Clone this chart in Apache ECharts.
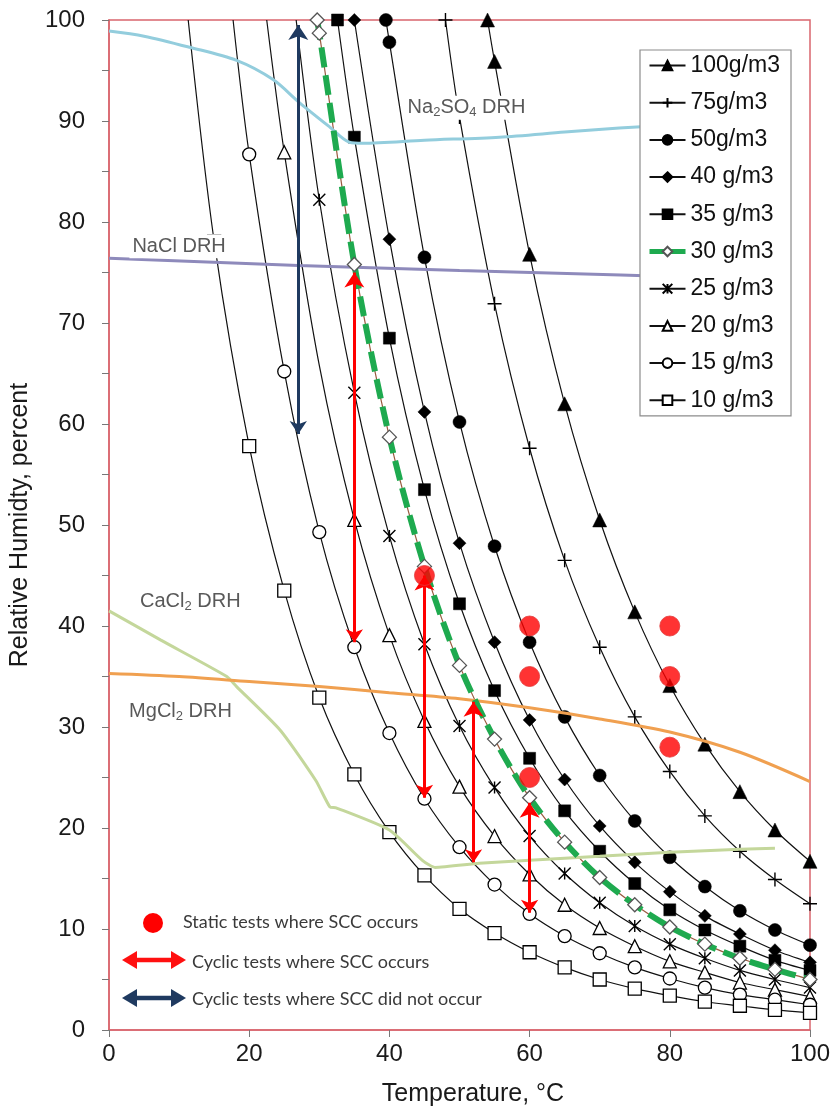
<!DOCTYPE html>
<html>
<head>
<meta charset="utf-8">
<script src="https://cdn.jsdelivr.net/npm/echarts@6/dist/echarts.min.js"></script>
<style>
  html, body { margin: 0; padding: 0; background: #fff; }
  #chart { width: 836px; height: 1115px; }
</style>
</head>
<body>
<div id="chart"></div>
<script>
// Relative humidity (%) against temperature (°C) at constant absolute humidity.
const ah100 = [[54, 100], [55, 95.9], [60, 76.8], [65, 62.0], [70, 50.5], [75, 41.4], [80, 34.1], [85, 28.3], [90, 23.6], [95, 19.8], [100, 16.7]];
const ah75 = [[48, 100], [50, 90.4], [55, 71.9], [60, 57.6], [65, 46.5], [70, 37.9], [75, 31.0], [80, 25.6], [85, 21.2], [90, 17.7], [95, 14.9], [100, 12.5]];
const ah50 = [[39.5, 100], [40, 97.8], [45, 76.5], [50, 60.2], [55, 47.9], [60, 38.4], [65, 31.0], [70, 25.2], [75, 20.7], [80, 17.1], [85, 14.2], [90, 11.8], [95, 9.9], [100, 8.4]];
const ah40 = [[35, 100], [40, 78.3], [45, 61.2], [50, 48.2], [55, 38.4], [60, 30.7], [65, 24.8], [70, 20.2], [75, 16.6], [80, 13.7], [85, 11.3], [90, 9.5], [95, 7.9], [100, 6.7]];
const ah35 = [[32.6, 100], [35, 88.4], [40, 68.5], [45, 53.5], [50, 42.2], [55, 33.6], [60, 26.9], [65, 21.7], [70, 17.7], [75, 14.5], [80, 11.9], [85, 9.9], [90, 8.3], [95, 6.9], [100, 5.9]];
const ah30 = [[29.7, 100], [30, 98.7], [35, 75.8], [40, 58.7], [45, 45.9], [50, 36.1], [55, 28.8], [60, 23.0], [65, 18.6], [70, 15.1], [75, 12.4], [80, 10.2], [85, 8.5], [90, 7.1], [95, 6.0], [100, 5.0]];
const ah25 = [[26.7, 100], [30, 82.2], [35, 63.1], [40, 48.9], [45, 38.2], [50, 30.1], [55, 24.0], [60, 19.2], [65, 15.5], [70, 12.6], [75, 10.3], [80, 8.5], [85, 7.1], [90, 5.9], [95, 5.0], [100, 4.2]];
const ah20 = [[22.5, 100], [25, 86.9], [30, 65.8], [35, 50.5], [40, 39.1], [45, 30.6], [50, 24.1], [55, 19.2], [60, 15.4], [65, 12.4], [70, 10.1], [75, 8.3], [80, 6.8], [85, 5.7], [90, 4.7], [95, 4.0], [100, 3.3]];
const ah15 = [[17.7, 100], [20, 86.7], [25, 65.2], [30, 49.3], [35, 37.9], [40, 29.4], [45, 22.9], [50, 18.1], [55, 14.4], [60, 11.5], [65, 9.3], [70, 7.6], [75, 6.2], [80, 5.1], [85, 4.2], [90, 3.5], [95, 3.0], [100, 2.5]];
const ah10 = [[11.3, 100], [15, 78.1], [20, 57.8], [25, 43.5], [30, 32.9], [35, 25.3], [40, 19.6], [45, 15.3], [50, 12.0], [55, 9.6], [60, 7.7], [65, 6.2], [70, 5.0], [75, 4.1], [80, 3.4], [85, 2.8], [90, 2.4], [95, 2.0], [100, 1.7]];

// Points drawn without a marker (index into each curve)
const unmarked = { '25 g/m3': [0], '20 g/m3': [0, 2], '15 g/m3': [0], '10 g/m3': [0] };

// Deliquescence relative humidity of salts
const na2so4DRH = [[0, 98.9], [5, 98.4], [11.5, 97.3], [18.2, 96.0], [23.4, 94.1], [27.2, 91.8], [31.5, 89.4], [34.3, 87.9], [36.2, 87.8], [45, 88.1], [55.7, 88.4], [65, 88.9], [72.8, 89.3], [80, 89.6]];
const naclDRH = [[0, 76.4], [27, 75.7], [50, 75.2], [73, 74.75], [80, 74.6]];
const cacl2DRH = [[0, 41.5], [7.4, 38.6], [16.8, 35.0], [18.2, 34.0], [24.4, 29.7], [29.5, 24.7], [31.5, 22.1], [32.4, 22.0], [40, 19.8], [44.7, 16.8], [46.5, 16.1], [52.8, 16.5], [60, 16.8], [70, 17.2], [80, 17.6], [90, 17.9], [95, 18.0]];
const mgcl2DRH = [[0, 35.3], [10, 35.0], [20, 34.5], [30, 34.0], [40, 33.4], [50, 32.8], [60, 31.9], [70, 30.8], [80, 29.5], [90, 27.5], [100, 24.6]];

// Test results
const staticSCC = [[45, 45], [60, 40], [60, 35], [60, 25], [80, 40], [80, 35], [80, 28]];
const cyclicSCC = [[35, 38.4, 75], [45, 23, 45], [52, 16.6, 32.5], [60, 11.6, 22.5]];   // [T, low RH, high RH]
const cyclicNoSCC = [[27, 59, 99.5]];

// Salt label anchors [T, RH]
const saltLabels = [
  { text: '{n|Na}{s|2}{n|SO}{s|4}{n| DRH}', at: [51, 91.3] },
  { text: '{n|NaCl DRH}', at: [10, 77.6] },
  { text: '{n|CaCl}{s|2}{n| DRH}', at: [11.6, 42.4] },
  { text: '{n|MgCl}{s|2}{n| DRH}', at: [10.2, 31.5] }
];

const legendNames = ['100g/m3', '75g/m3', '50g/m3', '40 g/m3', '35 g/m3', '30 g/m3', '25 g/m3', '20 g/m3', '15 g/m3', '10 g/m3'];

const FONT = 'Liberation Sans, Arial, sans-serif';
const GREEN = '#1eaa4f';
const plusPath = 'path://M5 0L5 10M0 5L10 5';
const starPath = 'path://M0 0L10 10M10 0L0 10M5 0L5 10';

const filled = { color: '#000', borderColor: '#000', borderWidth: 0.5 };
const hollow = { color: '#fff', borderColor: '#000', borderWidth: 1.3 };
const stroked = { color: '#000', borderColor: '#000', borderWidth: 1.4 };

const curveDefs = [
  { name: '100g/m3', data: ah100, symbol: 'triangle', size: 14, style: filled },
  { name: '75g/m3', data: ah75, symbol: plusPath, size: 14, style: stroked },
  { name: '50g/m3', data: ah50, symbol: 'circle', size: 13, style: filled },
  { name: '40 g/m3', data: ah40, symbol: 'diamond', size: 13, style: filled },
  { name: '35 g/m3', data: ah35, symbol: 'rect', size: 12, style: filled },
  { name: '30 g/m3', data: ah30, symbol: 'diamond', size: 14, style: { color: '#fff', borderColor: '#555', borderWidth: 1.3 } },
  { name: '25 g/m3', data: ah25, symbol: starPath, size: 12, style: stroked },
  { name: '20 g/m3', data: ah20, symbol: 'triangle', size: 13, style: hollow },
  { name: '15 g/m3', data: ah15, symbol: 'circle', size: 13, style: hollow },
  { name: '10 g/m3', data: ah10, symbol: 'rect', size: 13, style: hollow }
];

function toItems(name, pts) {
  const skip = unmarked[name] || [];
  return pts.map((p, i) => skip.indexOf(i) >= 0 ? { value: p, symbol: 'none' } : { value: p });
}

const series = [];

curveDefs.forEach(def => {
  const green = def.name === '30 g/m3';
  if (green) {
    // thin core line under the dashed highlight
    series.push({
      type: 'line', data: ah30, smooth: 0.3, symbol: 'none', silent: true, z: 3,
      lineStyle: { color: '#9a5b3f', width: 1.2 }
    });
  }
  series.push({
    name: def.name,
    type: 'line',
    data: toItems(def.name, def.data),
    smooth: 0.3,
    symbol: def.symbol,
    symbolSize: def.size,
    showAllSymbol: true,
    itemStyle: def.style,
    lineStyle: green ? { color: GREEN, width: 6, type: [20, 8] } : { color: '#111', width: 1.2 },
    z: green ? 4 : 2,
    silent: true
  });
});

function drhLine(data, color, smooth) {
  return { type: 'line', data: data, smooth: smooth, symbol: 'none', silent: true, z: 3,
           lineStyle: { color: color, width: 3 } };
}
series.push(drhLine(na2so4DRH, '#93cddd', 0.3));
series.push(drhLine(naclDRH, '#8e8abb', false));
series.push(drhLine(cacl2DRH, '#c4d79b', 0.2));
series.push(drhLine(mgcl2DRH, '#f0a050', 0.3));

// Cyclic tests: double-headed vertical arrows
series.push({
  type: 'lines', coordinateSystem: 'cartesian2d', silent: true, z: 5,
  symbol: ['arrow', 'arrow'], symbolSize: [13, 15],
  lineStyle: { color: '#ff0000', width: 3, opacity: 1 },
  data: cyclicSCC.map(a => ({ coords: [[a[0], a[1]], [a[0], a[2]]] }))
});
series.push({
  type: 'lines', coordinateSystem: 'cartesian2d', silent: true, z: 5,
  symbol: ['arrow', 'arrow'], symbolSize: [13, 15],
  lineStyle: { color: '#1f3a60', width: 3, opacity: 1 },
  data: cyclicNoSCC.map(a => ({ coords: [[a[0], a[1]], [a[0], a[2]]] }))
});

// Static tests
series.push({
  type: 'scatter', data: staticSCC, symbol: 'circle', symbolSize: 20, silent: true, z: 6,
  itemStyle: { color: '#ff0000', borderColor: '#e23a3a', borderWidth: 1 }
});

const chart = echarts.init(document.getElementById('chart'), null, { renderer: 'canvas' });

const AXIS_RED = '#d9656d';

chart.setOption({
  animation: false,
  backgroundColor: '#fff',
  grid: { left: 109, right: 26, top: 20, bottom: 85, show: true, borderColor: AXIS_RED, borderWidth: 1.5, backgroundColor: 'transparent' },
  xAxis: {
    type: 'value', min: 0, max: 100, interval: 20,
    name: 'Temperature, °C', nameLocation: 'middle', nameGap: 52,
    nameTextStyle: { fontSize: 25, color: '#1a1a1a', fontFamily: FONT, padding: [0, 0, 0, 27] },
    axisLine: { lineStyle: { color: AXIS_RED, width: 1.5 } },
    axisTick: { show: true, length: 7, lineStyle: { color: '#777' } },
    axisLabel: { fontSize: 24, color: '#1a1a1a', fontFamily: FONT, margin: 12 },
    splitLine: { show: false }
  },
  yAxis: {
    type: 'value', min: 0, max: 100, interval: 5,
    name: 'Relative Humidty, percent', nameLocation: 'middle', nameGap: 76,
    nameTextStyle: { fontSize: 25, color: '#1a1a1a', fontFamily: FONT },
    axisLine: { show: true, lineStyle: { color: AXIS_RED, width: 1.5 } },
    axisTick: { show: true, length: 7, lineStyle: { color: '#777' } },
    axisLabel: { fontSize: 24, color: '#1a1a1a', fontFamily: FONT, margin: 24,
                 formatter: v => (v % 10 === 0 ? String(v) : '') },
    splitLine: { show: false }
  },
  legend: {
    data: legendNames.map(n => n === '30 g/m3'
      ? { name: n, lineStyle: { color: GREEN, width: 5, type: 'solid' } }
      : { name: n }),
    orient: 'vertical', left: 640, top: 50,
    backgroundColor: '#fff', borderColor: '#8c8c8c', borderWidth: 1.2,
    padding: [4, 11, 4, 7], itemGap: 14.2, itemWidth: 36, itemHeight: 12,
    selectedMode: false,
    textStyle: { fontSize: 23, color: '#111', fontFamily: FONT, lineHeight: 22 }
  },
  series: series
});

// Salt labels (white boxes over the curves) and the key for the test symbols
const labelRich = {
  n: { fontSize: 20, fill: '#595959', fontFamily: FONT, lineHeight: 22, verticalAlign: 'middle' },
  s: { fontSize: 13, fill: '#595959', fontFamily: FONT, lineHeight: 22, verticalAlign: 'middle', padding: [9, 0, 0, 0] }
};
const graphics = saltLabels.map(l => {
  const p = chart.convertToPixel({ gridIndex: 0 }, l.at);
  return {
    type: 'text', x: p[0], y: p[1], z: 20,
    style: { text: l.text, rich: labelRich, align: 'center', verticalAlign: 'middle',
             backgroundColor: '#fff', padding: [1, 3] }
  };
});

const KEY_FONT = '18px Lato, sans-serif';
graphics.push(
  { type: 'circle', shape: { cx: 153, cy: 923, r: 10 }, style: { fill: '#ff0000' }, z: 20 },
  { type: 'text', x: 183, y: 922, style: { text: 'Static tests where SCC occurs', fill: '#3a3a3a', font: KEY_FONT, verticalAlign: 'middle' }, z: 20 },
  { type: 'line', shape: { x1: 132, y1: 960, x2: 176, y2: 960 }, style: { stroke: '#ff1010', lineWidth: 4.5 }, z: 20 },
  { type: 'polygon', shape: { points: [[122, 960], [137, 951], [137, 969]] }, style: { fill: '#ff1010' }, z: 20 },
  { type: 'polygon', shape: { points: [[186, 960], [171, 951], [171, 969]] }, style: { fill: '#ff1010' }, z: 20 },
  { type: 'text', x: 192, y: 962, style: { text: 'Cyclic tests where SCC occurs', fill: '#3a3a3a', font: KEY_FONT, verticalAlign: 'middle' }, z: 20 },
  { type: 'line', shape: { x1: 132, y1: 998, x2: 176, y2: 998 }, style: { stroke: '#1f3a60', lineWidth: 4.5 }, z: 20 },
  { type: 'polygon', shape: { points: [[122, 998], [137, 989], [137, 1007]] }, style: { fill: '#1f3a60' }, z: 20 },
  { type: 'polygon', shape: { points: [[186, 998], [171, 989], [171, 1007]] }, style: { fill: '#1f3a60' }, z: 20 },
  { type: 'text', x: 192, y: 999, style: { text: 'Cyclic tests where SCC did not occur', fill: '#3a3a3a', font: KEY_FONT, verticalAlign: 'middle' }, z: 20 }
);

chart.setOption({ graphic: graphics });
</script>
</body>
</html>
